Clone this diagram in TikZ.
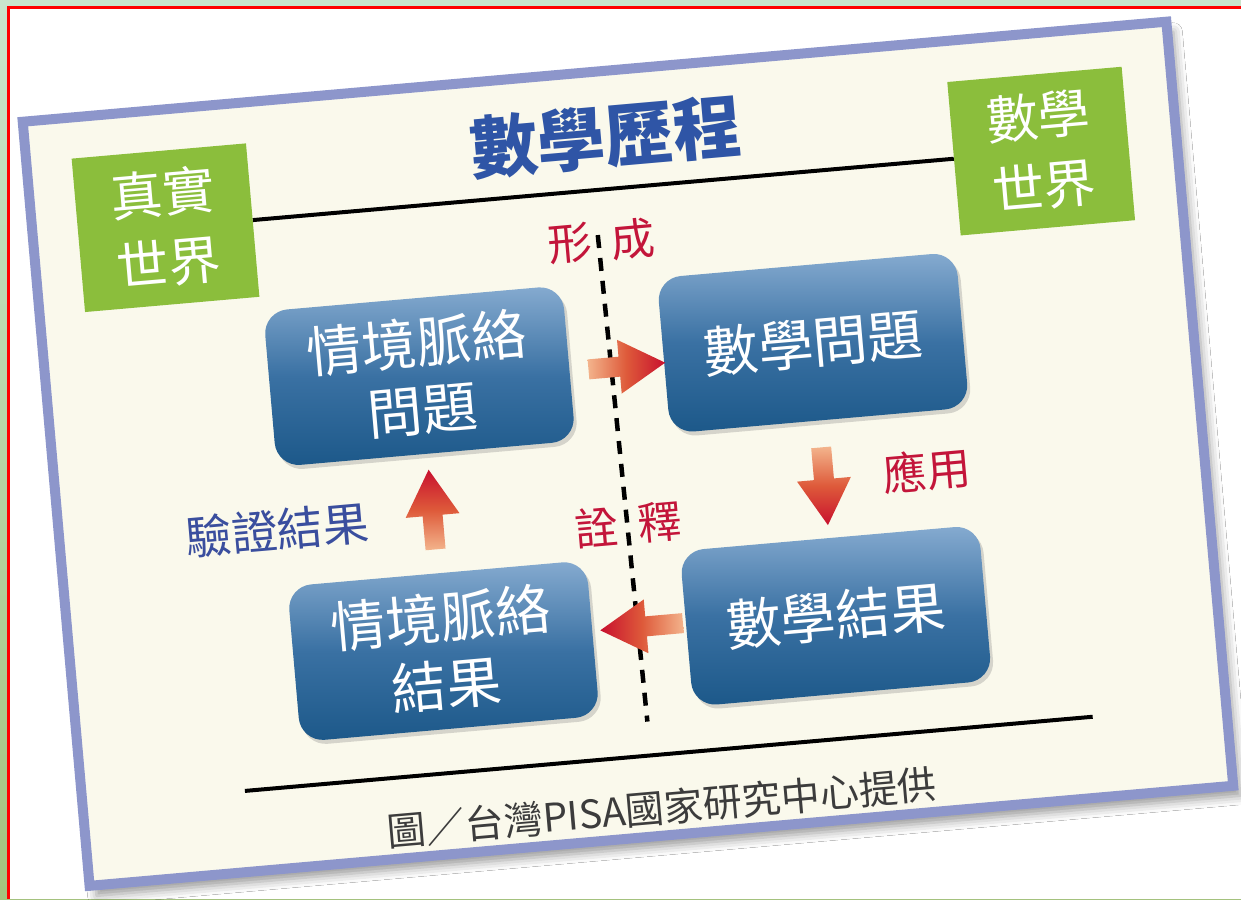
\documentclass[tikz,border=0pt]{standalone}
\usepackage{fontspec}
\newfontfamily\cjk{Noto Sans CJK TC}
\usetikzlibrary{shadows,shadows.blur}
\definecolor{frameblue}{HTML}{8D96CB}
\definecolor{cream}{HTML}{FAF9EC}
\definecolor{leafgreen}{HTML}{8BBE3C}
\definecolor{boxtop}{HTML}{86ABD0}
\definecolor{boxmid}{HTML}{3A71A3}
\definecolor{boxbot}{HTML}{1C5889}
\definecolor{titleblue}{HTML}{2F55A6}
\definecolor{labelred}{HTML}{C3153A}
\definecolor{navylab}{HTML}{3A4E9E}
\definecolor{arrowred}{HTML}{C8102E}
\definecolor{arroworange}{HTML}{DE5A3A}
\definecolor{arrowpeach}{HTML}{F3B48C}
\definecolor{bggreen}{HTML}{C9E4CC}
\definecolor{bgdark}{HTML}{A4C27E}
\definecolor{captiongray}{HTML}{3C3C3C}
\tikzset{
  greenbox/.style={fill=leafgreen, minimum width=175pt, minimum height=154pt, inner sep=0pt,
    text=white, align=center, font=\cjk\fontsize{52}{70}\selectfont},
  bluebox/.style={rounded corners=24pt, minimum width=300pt, minimum height=156pt, inner sep=0pt,
    top color=boxtop, bottom color=boxbot, middle color=boxmid,
    text=white, align=center, font=\cjk\fontsize{55}{67}\selectfont,
    drop shadow={opacity=0.3, shadow xshift=3pt, shadow yshift=-4pt}},
  redlab/.style={text=labelred, inner sep=0pt, font=\cjk\fontsize{44}{50}\selectfont},
  navylabel/.style={text=navylab, inner sep=0pt, font=\cjk\fontsize{46}{52}\selectfont},
  ruleline/.style={line width=4pt, black},
  divider/.style={line width=4.5pt, black, dash pattern=on 13pt off 10pt},
}
\begin{document}
\begin{tikzpicture}[x=1pt,y=-1pt]
\useasboundingbox (0,0) rectangle (1241,899);
% page background
\shade[top color=bggreen, bottom color=bgdark] (0,0) rectangle (1241,899);
\fill[white] (8,8) rectangle (1241,899);
\draw[red, line width=3pt] (8,899) -- (8,8) -- (1241,8);
\begin{scope}[shift={(631,454)}, rotate=5, transform shape]
  % card
  \draw[frameblue, line width=10pt, fill=cream,
        blur shadow={shadow xshift=7pt, shadow yshift=-10pt, shadow blur radius=9pt, shadow opacity=40}]
        (-577,-384) rectangle (571,383);
  % title and world labels
  \node[font=\cjk\bfseries\fontsize{68}{80}\selectfont, text=titleblue, inner sep=0pt] (title) at (2,-318) {數學歷程};
  \node[greenbox] (realw) at (-444,-266) {真實\\世界};
  \node[greenbox] (mathw) at (435,-266) {數學\\世界};
  \draw[ruleline] (realw.east) -- (mathw.west);
  % divider
  \coordinate (divtop) at (-14,-221);
  \coordinate (divbot) at (-7,268);
  \draw[divider] (divtop) -- (divbot);
  % process boxes
  \node[bluebox] (ctxq) at (-204,-96) {情境脈絡\\問題};
  \node[bluebox] (mathq) at (191,-95) {數學問題};
  \node[bluebox] (ctxr) at (-204,180) {情境脈絡\\結果};
  \node[bluebox] (mathr) at (190,179) {數學結果};
  % arrows
  \shade[left color=arrowpeach, right color=arrowred, middle color=arroworange]
    (-35,-98) -- (-4,-98) -- (-4,-115) -- (42,-88) -- (-4,-61) -- (-4,-78) -- (-35,-78) -- cycle;
  \shade[top color=arrowpeach, bottom color=arrowred, middle color=arroworange]
    (180,10) -- (180,42) -- (163,42) -- (190,88) -- (217,42) -- (200,42) -- (200,10) -- cycle;
  \shade[left color=arrowred, right color=arrowpeach, middle color=arroworange]
    (37,163) -- (0,163) -- (0,146) -- (-46,173) -- (0,200) -- (0,183) -- (37,183) -- cycle;
  \shade[top color=arrowred, bottom color=arrowpeach, middle color=arroworange]
    (-213,78) -- (-213,44) -- (-230,44) -- (-203,-2) -- (-176,44) -- (-193,44) -- (-193,78) -- cycle;
  % labels
  \node[redlab] (form1) at (-42,-215) {形};
  \node[redlab] (form2) at (21,-214) {成};
  \node[redlab] (interp1) at (-40,70) {詮};
  \node[redlab] (interp2) at (23,70) {釋};
  \node[redlab] (apply) at (293,42) {應用};
  \node[navylabel] (verify) at (-359,45) {驗證結果};
  % bottom rule and credit
  \coordinate (botl) at (-414,302);
  \coordinate (botr) at (437,302);
  \draw[ruleline] (botl) -- (botr);
  \node[text=captiongray, inner sep=0pt, font=\cjk\fontsize{39}{44}\selectfont] (credit) at (0,355) {圖／台灣PISA國家研究中心提供};
\end{scope}
\end{tikzpicture}
\end{document}
